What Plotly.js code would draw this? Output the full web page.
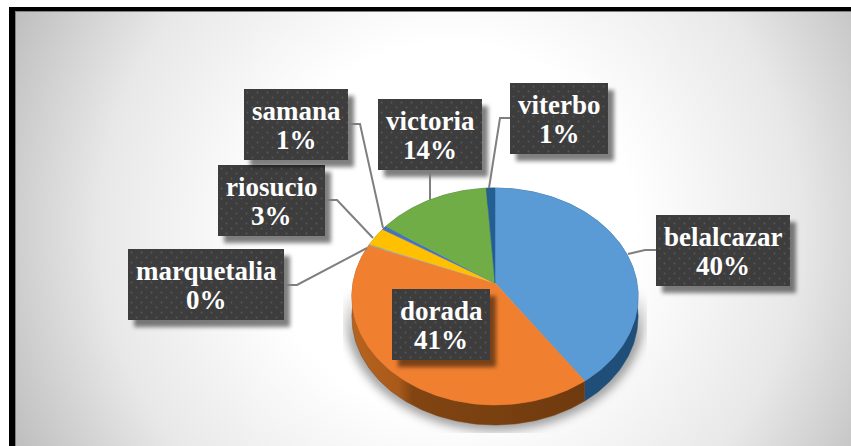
<!DOCTYPE html>
<html>
<head>
<meta charset="utf-8">
<script src="https://cdn.plot.ly/plotly-3.0.1.min.js"></script>
<style>
html,body{margin:0;padding:0;background:#fff;width:851px;height:446px;overflow:hidden}
#frame{position:absolute;left:9px;top:7px;width:842px;height:439px;box-sizing:border-box;
border-left:6px solid #000;border-top:4px solid #000;box-shadow:inset 1px 1px 0 #808080;
background:radial-gradient(circle farthest-corner at 52% 50%,#fff 38%,#e8e8e8 72%,#bebebe 100%)}
#chart{position:absolute;left:0;top:0;width:851px;height:446px}
</style>
</head>
<body>
<div id="frame"></div>
<div id="chart"></div>
<script>
// Data
const categories = ['belalcazar','dorada','marquetalia','riosucio','samana','victoria','viterbo'];
const shares = [40.4,40.6,0.2,2.8,0.6,14.3,1.1];

// Styles
const topColors = ['#5b9bd5','#f08030','#a5a5a5','#ffc000','#4472c4','#70ad47','#255e91'];
const wallColors = ['#1f4e79','#7a4010','#666666','#997300','#264478','#43682b','#163a57'];

// Placement of the pie and labels on the pixel-scaled axes
const apexX = 495, apexY = 283, radiusX = 142, radiusY = 106.8, perspective = 0.1244, depth = 20;
const labelBoxes = {
  belalcazar:[656,215,134,71], dorada:[392,289,98,71], marquetalia:[128,249,156,71],
  riosucio:[218,165,107,71], samana:[244,89,104,71], victoria:[378,99,104,71], viterbo:[510,83,98,71]
};
const leaderPaths = {
  belalcazar:'M656,250L645,250L628,254', marquetalia:'M284,285L297,285L367,248',
  riosucio:'M325,200L337,200L373,238', samana:'M348,124L360,124L383,228',
  victoria:'M430,170L430,200', viterbo:'M510,118L500,118L489,188'
};

function project(frac){
  const a = frac*2*Math.PI, u = Math.sin(a), v = -Math.cos(a), w = 1 - perspective*v;
  return [apexX + u*radiusX/w, apexY + v*radiusY/w];
}
function arc(f0,f1){
  const n = Math.max(2,Math.ceil((f1-f0)*360)), pts = [];
  for(let i=0;i<=n;i++) pts.push(project(f0+(f1-f0)*i/n));
  return pts;
}
const total = shares.reduce((a,b)=>a+b,0);
const walls = [], tops = [];
let cum = 0;
categories.forEach((name,i)=>{
  const f0 = cum/total, f1 = (cum+shares[i])/total; cum += shares[i];
  const rim = arc(f0,f1);
  const wallPts = rim.concat(rim.slice().reverse().map(p=>[p[0],p[1]+depth]));
  const wall = {type:'scatter',mode:'lines',x:wallPts.map(p=>p[0]),y:wallPts.map(p=>p[1]),
    fill:'toself',fillcolor:wallColors[i],line:{color:wallColors[i],width:0.5},hoverinfo:'skip',showlegend:false};
  if(name==='dorada'){
    wall.fillgradient={type:'horizontal',colorscale:[[0,'#b8641f'],[0.2,'#a9591a'],[0.26,'#824512'],[1,'#6f3a0e']]};
  }
  walls.push(wall);
  const face = [[apexX,apexY]].concat(rim,[[apexX,apexY]]);
  tops.push({type:'scatter',mode:'lines',name:name,x:face.map(p=>p[0]),y:face.map(p=>p[1]),
    fill:'toself',fillcolor:topColors[i],line:{color:topColors[i],width:0.5},
    text:name+' '+Math.round(shares[i]/total*100)+'%',hoverinfo:'text',showlegend:false});
});

function dataUri(svg){return 'data:image/svg+xml;charset=utf-8,'+encodeURIComponent(svg);}
function boxImage(b){
  const pad = 14, W = b[2]+pad*2, H = b[3]+pad*2;
  const svg = `<svg xmlns="http://www.w3.org/2000/svg" width="${W}" height="${H}" viewBox="0 0 ${W} ${H}">
<defs><filter id="b" x="-20%" y="-20%" width="140%" height="140%"><feGaussianBlur stdDeviation="2.2"/></filter>
<pattern id="d" width="10" height="10" patternUnits="userSpaceOnUse"><rect width="10" height="10" fill="#3d3d3d"/>
<circle cx="2.5" cy="2.5" r="0.9" fill="#585858"/><circle cx="7.5" cy="7.5" r="0.9" fill="#585858"/></pattern></defs>
<rect x="${pad+6}" y="${pad+7}" width="${b[2]}" height="${b[3]}" fill="#000" fill-opacity="0.5" filter="url(#b)"/>
<rect x="${pad}" y="${pad}" width="${b[2]}" height="${b[3]}" fill="url(#d)"/></svg>`;
  return {source:dataUri(svg),xref:'x',yref:'y',x:b[0]-pad,y:b[1]-pad,sizex:W,sizey:H,
    xanchor:'left',yanchor:'top',sizing:'stretch',layer:'above'};
}
function groundShadow(){
  const x0=335,y0=270,W=320,H=170;
  const svg = `<svg xmlns="http://www.w3.org/2000/svg" width="${W}" height="${H}" viewBox="0 0 ${W} ${H}">
<defs><filter id="s" x="-20%" y="-20%" width="140%" height="140%"><feGaussianBlur stdDeviation="5"/></filter>
<linearGradient id="f" gradientUnits="userSpaceOnUse" x1="0" y1="20" x2="0" y2="70"><stop offset="0" stop-color="#000" stop-opacity="0"/><stop offset="1" stop-color="#000" stop-opacity="0.36"/></linearGradient>
<clipPath id="c"><rect x="8" y="0" width="304" height="163"/></clipPath></defs>
<g clip-path="url(#c)"><ellipse cx="160" cy="46" rx="150" ry="115" fill="url(#f)" filter="url(#s)"/></g></svg>`;
  return {source:dataUri(svg),xref:'x',yref:'y',x:x0,y:y0,sizex:W,sizey:H,
    xanchor:'left',yanchor:'top',sizing:'stretch',layer:'below'};
}

const annotations = [];
categories.forEach((name,i)=>{
  const b = labelBoxes[name], cx = b[0]+b[2]/2;
  const font = {family:'"Liberation Serif","Times New Roman",serif',size:27,color:'#ffffff',weight:'bold'};
  annotations.push({xref:'x',yref:'y',x:cx,y:b[1]+22,text:'<b>'+name+'</b>',showarrow:false,font:font,xanchor:'center',yanchor:'middle'});
  annotations.push({xref:'x',yref:'y',x:cx,y:b[1]+51,text:'<b>'+Math.round(shares[i]/total*100)+'%</b>',showarrow:false,font:font,xanchor:'center',yanchor:'middle'});
});
const shapes = Object.keys(leaderPaths).map(k=>({type:'path',path:leaderPaths[k],xref:'x',yref:'y',
  line:{color:'#7f7f7f',width:2},layer:'above'}));

const layout = {
  width:851,height:446,margin:{l:0,r:0,t:0,b:0},
  paper_bgcolor:'rgba(0,0,0,0)',plot_bgcolor:'rgba(0,0,0,0)',
  xaxis:{range:[0,851],visible:false,fixedrange:true},
  yaxis:{range:[446,0],visible:false,fixedrange:true},
  showlegend:false,shapes:shapes,annotations:annotations,
  images:[groundShadow()].concat(categories.map(n=>boxImage(labelBoxes[n])))
};
Plotly.newPlot('chart',walls.concat(tops),layout,{displayModeBar:false,staticPlot:false});
</script>
</body>
</html>
